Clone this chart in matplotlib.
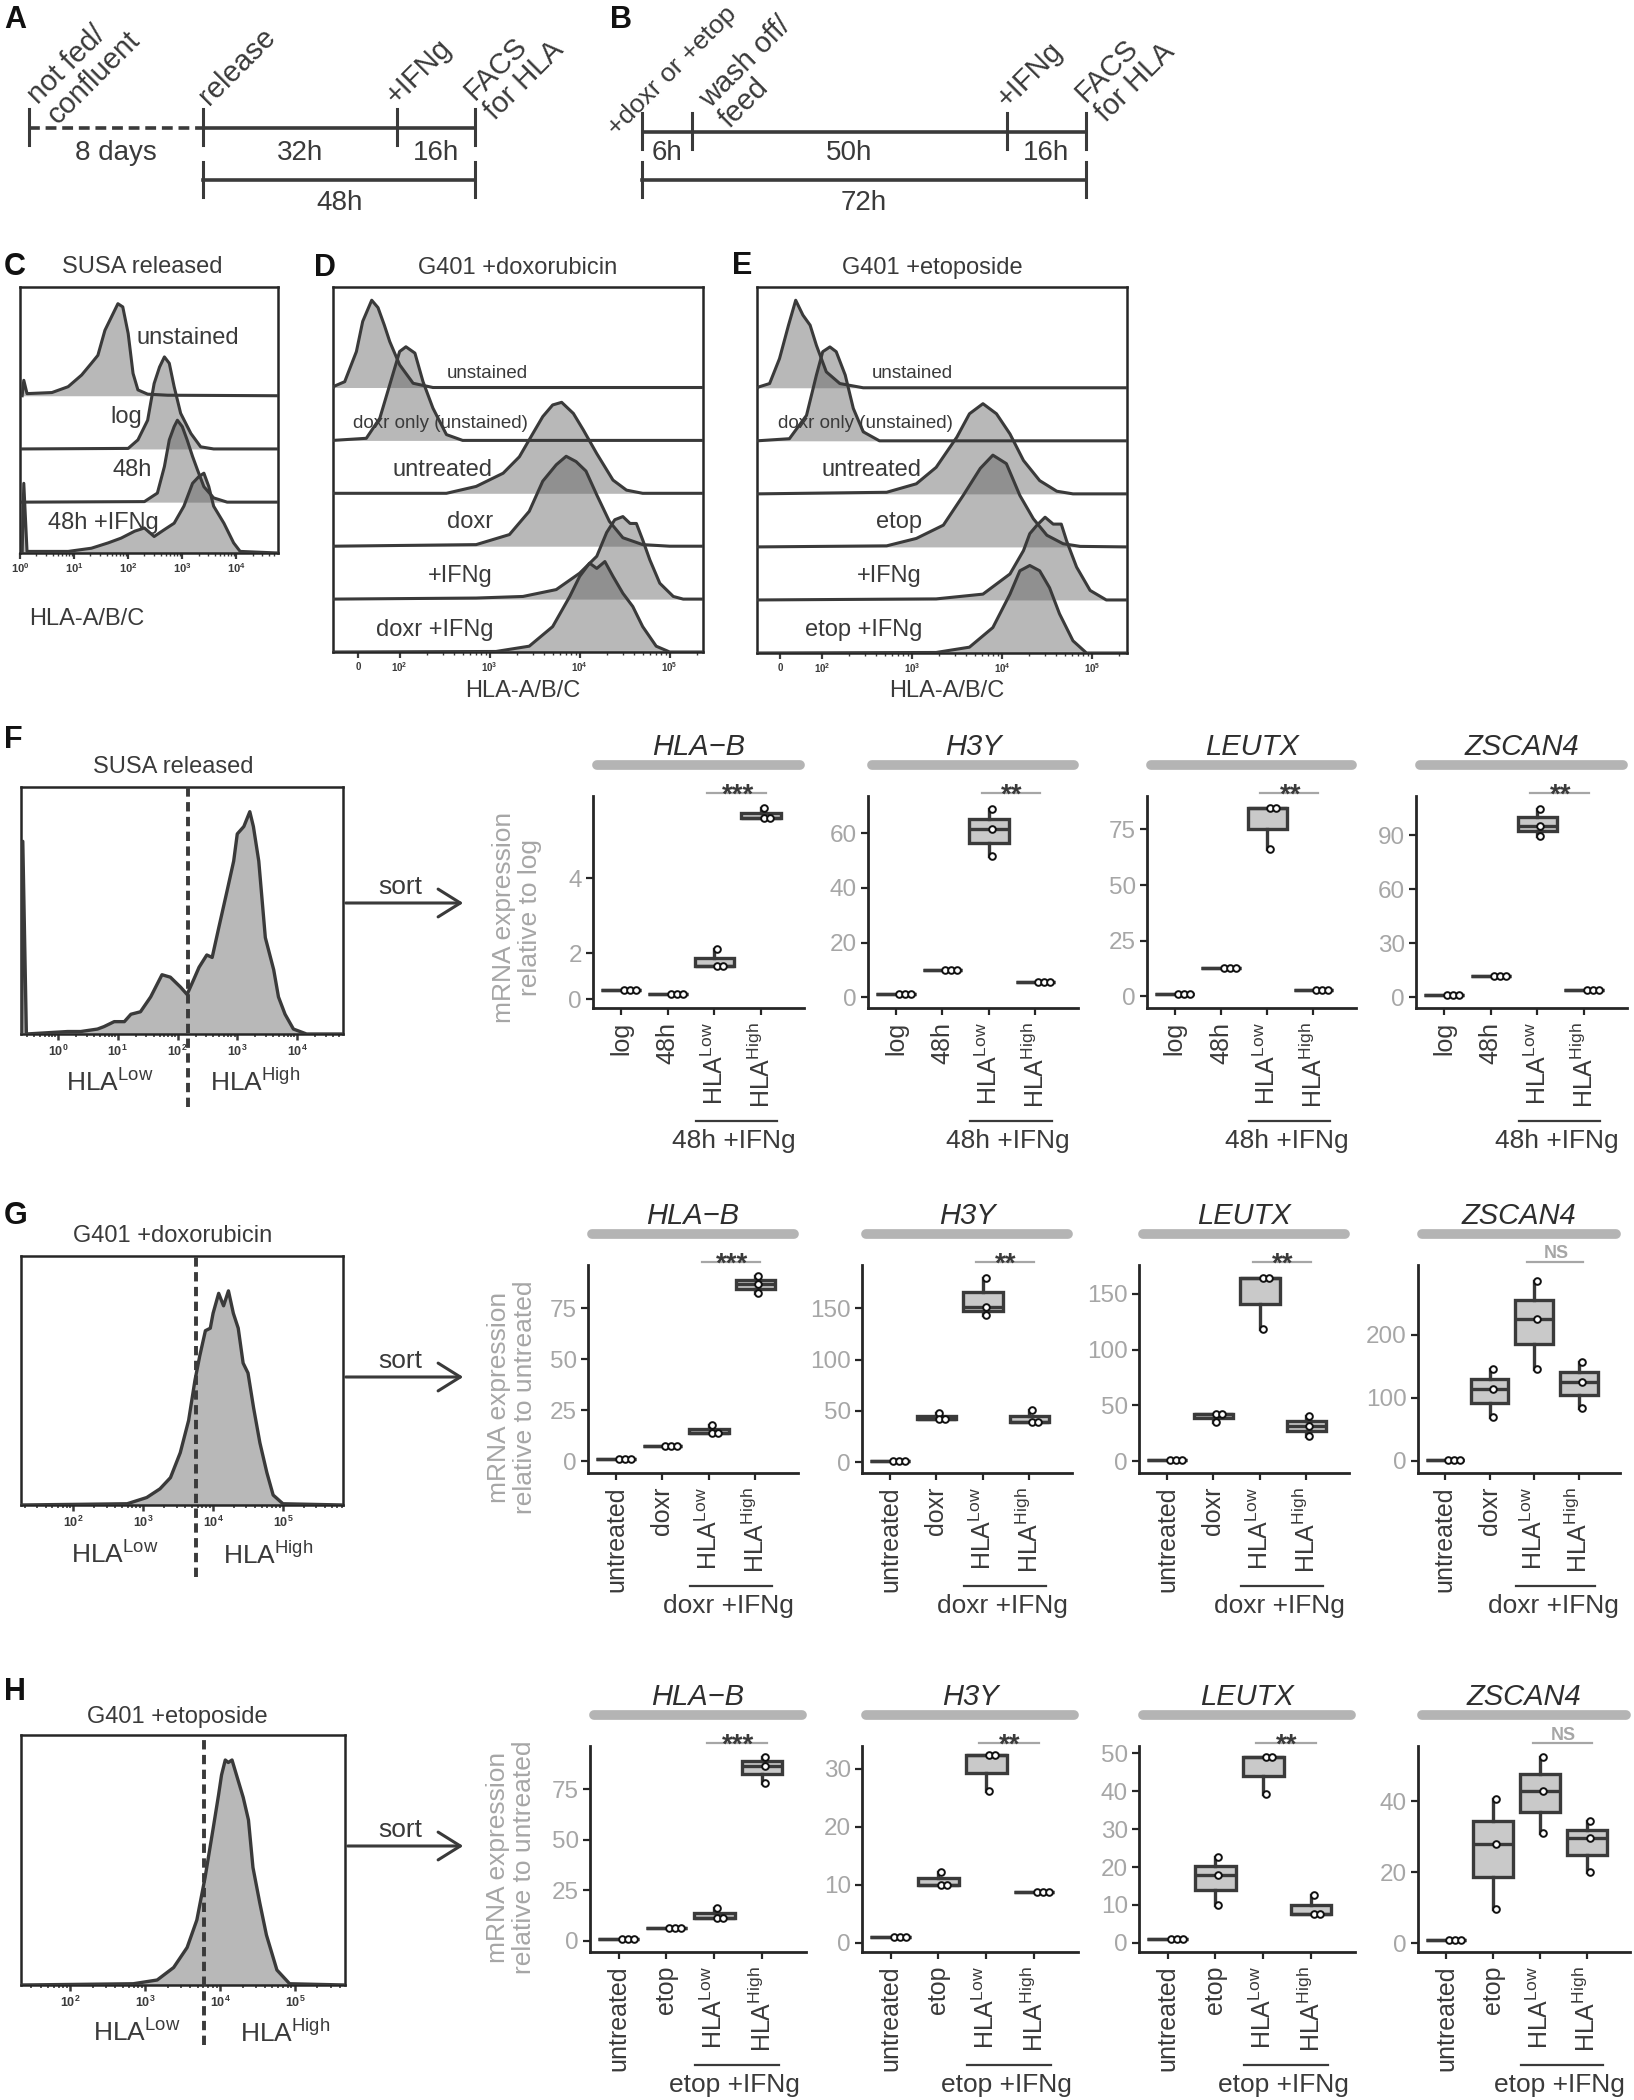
"""Composite figure: timelines, flow histograms and qPCR box plots."""

import numpy as np
import matplotlib
matplotlib.use("Agg")
import matplotlib.pyplot as plt
import matplotlib.transforms as mtransforms
from matplotlib.patches import FancyArrowPatch

plt.rcParams["font.family"] = ["Liberation Sans", "DejaVu Sans"]
plt.rcParams["mathtext.fontset"] = "custom"
plt.rcParams["mathtext.rm"] = "Liberation Sans"
plt.rcParams["mathtext.it"] = "Liberation Sans:italic"
plt.rcParams["mathtext.bf"] = "Liberation Sans:bold"

W, H = 1634, 2100
INK = "#3a3a3a"
AXIS = "#262626"
GREY = "#a6a6a6"
STRIP = "#b4b4b4"
BOXFILL = "#c9c9c9"
HISTFILL = "#5c5c5c"

# ---------------- data ----------------
# A / B schematic timelines
A_EVENTS = ["not fed/\nconfluent", "release", "+IFNg", "FACS\nfor HLA"]
A_SPANS = ["8 days", "32h", "16h"]
A_TOTAL = "48h"
B_EVENTS = ["+doxr or +etop", "wash off/\nfeed", "+IFNg", "FACS\nfor HLA"]
B_SPANS = ["6h", "50h", "16h"]
B_TOTAL = "72h"

# C: SUSA released (x = log10 intensity, h = height in row units)
C_UNST_X = [0.07, 0.13, 0.59, 0.89, 1.14, 1.32, 1.44, 1.57, 1.69, 1.81, 1.90, 2.00, 2.09, 2.18, 2.36, 2.73]
C_UNST_H = [0.29, 0.04, 0.06, 0.17, 0.39, 0.61, 0.76, 1.23, 1.48, 1.73, 1.67, 1.17, 0.42, 0.11, 0.03, 0.01]
C_LOG_X = [2.00, 2.18, 2.36, 2.48, 2.58, 2.67, 2.76, 2.85, 2.97, 3.16, 3.34, 3.58]
C_LOG_H = [0.01, 0.17, 0.54, 1.23, 1.54, 1.73, 1.61, 1.17, 0.67, 0.29, 0.04, 0.0]
C_48_X = [2.30, 2.54, 2.67, 2.76, 2.85, 2.91, 3.00, 3.09, 3.19, 3.28, 3.40, 3.58, 3.83]
C_48_H = [0.01, 0.17, 0.67, 1.17, 1.42, 1.54, 1.42, 1.17, 0.86, 0.61, 0.29, 0.08, 0.0]
C_IFN_X = [0.07, 0.13, 0.89, 1.32, 1.63, 1.87, 2.12, 2.30, 2.48, 2.67, 2.85, 3.03, 3.19, 3.31, 3.40,
           3.49, 3.58, 3.77, 3.95, 4.07]
C_IFN_H = [1.31, 0.03, 0.03, 0.09, 0.19, 0.28, 0.41, 0.47, 0.31, 0.44, 0.56, 0.88, 1.31, 1.44, 1.50,
           1.25, 0.88, 0.56, 0.19, 0.03]
C_LABELS = ["unstained", "log", "48h", "48h +IFNg"]

# D: G401 +doxorubicin
D_UNST_X = [1.24, 1.39, 1.52, 1.59, 1.69, 1.76, 1.83, 1.89, 2.00, 2.15, 2.37]
D_UNST_H = [0.0, 0.11, 0.68, 1.25, 1.65, 1.51, 1.18, 0.87, 0.43, 0.08, 0.0]
D_DXO_X = [1.63, 1.78, 1.89, 2.00, 2.07, 2.17, 2.26, 2.37, 2.52, 2.70]
D_DXO_H = [0.04, 0.42, 1.05, 1.68, 1.77, 1.65, 1.11, 0.61, 0.11, 0.0]
D_UNT_X = [2.52, 2.85, 3.15, 3.33, 3.48, 3.59, 3.70, 3.80, 3.93, 4.04, 4.19, 4.37, 4.52, 4.70]
D_UNT_H = [0.0, 0.13, 0.38, 0.69, 1.13, 1.45, 1.67, 1.72, 1.51, 1.20, 0.75, 0.25, 0.06, 0.0]
D_DOX_X = [2.85, 3.22, 3.44, 3.59, 3.74, 3.85, 3.96, 4.07, 4.19, 4.33, 4.48, 4.70, 5.00]
D_DOX_H = [0.03, 0.22, 0.66, 1.23, 1.54, 1.70, 1.60, 1.42, 0.97, 0.47, 0.16, 0.03, 0.0]
D_IFN_X = [2.85, 3.37, 3.74, 4.00, 4.19, 4.30, 4.39, 4.48, 4.56, 4.63, 4.70, 4.78, 4.89, 5.04, 5.15]
D_IFN_H = [0.02, 0.05, 0.18, 0.49, 0.81, 1.26, 1.50, 1.56, 1.43, 1.43, 1.12, 0.74, 0.30, 0.05, 0.0]
D_DIF_X = [3.07, 3.44, 3.70, 3.89, 4.00, 4.11, 4.19, 4.28, 4.37, 4.48, 4.59, 4.70, 4.85, 5.00]
D_DIF_H = [0.01, 0.11, 0.48, 1.05, 1.43, 1.68, 1.58, 1.71, 1.43, 1.11, 0.86, 0.48, 0.11, 0.0]
D_LABELS = ["unstained", "doxr only (unstained)", "untreated", "doxr", "+IFNg", "doxr +IFNg"]

# E: G401 +etoposide
E_UNST_X = [1.27, 1.42, 1.53, 1.63, 1.71, 1.79, 1.87, 1.94, 2.05, 2.20, 2.46]
E_UNST_H = [0.0, 0.08, 0.55, 1.18, 1.65, 1.37, 1.18, 0.80, 0.30, 0.08, 0.0]
E_DXO_X = [1.64, 1.83, 1.94, 2.01, 2.09, 2.16, 2.26, 2.35, 2.46, 2.64]
E_DXO_H = [0.04, 0.48, 1.24, 1.68, 1.77, 1.68, 1.24, 0.61, 0.17, 0.0]
E_UNT_X = [2.72, 3.05, 3.27, 3.50, 3.64, 3.79, 3.94, 4.09, 4.24, 4.42, 4.61, 4.79]
E_UNT_H = [0.03, 0.19, 0.50, 1.07, 1.51, 1.70, 1.51, 1.13, 0.63, 0.25, 0.05, 0.0]
E_ETO_X = [2.72, 3.05, 3.35, 3.57, 3.76, 3.90, 4.05, 4.20, 4.35, 4.50, 4.68, 4.87]
E_ETO_H = [0.02, 0.16, 0.41, 0.97, 1.48, 1.73, 1.57, 0.97, 0.53, 0.22, 0.06, 0.01]
E_IFN_X = [3.27, 3.79, 4.09, 4.24, 4.31, 4.39, 4.48, 4.57, 4.66, 4.72, 4.83, 4.98, 5.16]
E_IFN_H = [0.02, 0.11, 0.49, 0.93, 1.25, 1.41, 1.56, 1.43, 1.43, 1.11, 0.62, 0.18, 0.0]
E_EIF_X = [3.27, 3.64, 3.90, 4.09, 4.20, 4.31, 4.42, 4.53, 4.64, 4.79, 4.94]
E_EIF_H = [0.01, 0.11, 0.48, 1.11, 1.55, 1.65, 1.55, 1.23, 0.74, 0.23, 0.0]
E_LABELS = ["unstained", "doxr only (unstained)", "untreated", "etop", "+IFNg", "etop +IFNg"]

# F / G / H sort histograms (h = fraction of frame height)
F_X = [-0.61, -0.59, -0.53, 0.16, 0.38, 0.66, 0.77, 0.94, 1.11, 1.22, 1.38, 1.55, 1.74, 1.88, 2.05,
       2.16, 2.27, 2.36, 2.49, 2.58, 2.69, 2.83, 2.94, 3.00, 3.11, 3.16, 3.21, 3.27, 3.36, 3.47,
       3.61, 3.69, 3.80, 3.94, 4.16]
F_H = [0.0, 0.78, 0.0, 0.01, 0.01, 0.02, 0.03, 0.05, 0.05, 0.08, 0.09, 0.15, 0.24, 0.23, 0.19,
       0.16, 0.22, 0.27, 0.32, 0.31, 0.43, 0.58, 0.70, 0.81, 0.84, 0.87, 0.90, 0.84, 0.70, 0.39,
       0.26, 0.15, 0.08, 0.02, 0.0]
G_X = [2.77, 3.05, 3.24, 3.39, 3.53, 3.65, 3.74, 3.81, 3.89, 3.96, 4.00, 4.08, 4.15, 4.22, 4.29,
       4.36, 4.43, 4.50, 4.58, 4.67, 4.77, 4.86, 5.00]
G_H = [0.005, 0.03, 0.065, 0.11, 0.21, 0.34, 0.50, 0.60, 0.70, 0.71, 0.77, 0.85, 0.80, 0.86, 0.77,
       0.71, 0.57, 0.53, 0.39, 0.25, 0.13, 0.04, 0.005]
H_X = [2.84, 3.16, 3.38, 3.56, 3.69, 3.80, 3.91, 3.98, 4.02, 4.07, 4.11, 4.16, 4.22, 4.31, 4.38,
       4.44, 4.53, 4.62, 4.76, 4.93]
H_H = [0.005, 0.02, 0.07, 0.15, 0.26, 0.43, 0.63, 0.76, 0.84, 0.90, 0.89, 0.90, 0.84, 0.75, 0.66,
       0.47, 0.33, 0.20, 0.06, 0.005]
F_GATE, G_GATE, H_GATE = 2.17, 3.75, 3.79

# qPCR box plots (3 replicates per group)
GENES = ["HLA\u2212B", "H3Y", "LEUTX", "ZSCAN4"]
HLA_LOW = r"HLA$^{\mathregular{Low}}$"
HLA_HIGH = r"HLA$^{\mathregular{High}}$"
F_CATS = ["log", "48h", HLA_LOW, HLA_HIGH]
G_CATS = ["untreated", "doxr", HLA_LOW, HLA_HIGH]
H_CATS = ["untreated", "etop", HLA_LOW, HLA_HIGH]

F_HLAB = [[1.0, 1.0, 1.0], [0.91, 0.91, 0.91], [2.11, 1.64, 1.64], [5.88, 5.60, 5.60]]
F_H3Y = [[1.0, 1.0, 1.0], [9.8, 9.8, 9.8], [69.1, 61.5, 51.7], [5.7, 5.7, 5.7]]
F_LEUTX = [[1.0, 1.0, 1.0], [12.6, 12.6, 12.6], [84.5, 84.5, 66.0], [3.0, 3.0, 3.0]]
F_ZSCAN4 = [[1.0, 1.0, 1.0], [11.9, 11.9, 11.9], [104.6, 95.0, 89.4], [3.7, 3.7, 3.7]]

G_HLAB = [[1.0, 1.0, 1.0], [7.3, 7.3, 7.3], [17.6, 13.9, 13.9], [91.0, 86.8, 82.4]]
G_H3Y = [[1.0, 1.0, 1.0], [47.7, 41.9, 41.9], [179.9, 151.6, 143.5], [51.0, 39.0, 39.0]]
G_LEUTX = [[1.0, 1.0, 1.0], [42.3, 42.3, 34.8], [164.3, 164.3, 118.2], [40.8, 31.8, 22.9]]
G_ZSCAN4 = [[1.0, 1.0, 1.0], [145.0, 114.4, 70.0], [285.0, 225.0, 146.0], [157.0, 125.0, 84.5]]

H_HLAB = [[1.0, 1.0, 1.0], [6.1, 6.1, 6.1], [16.1, 11.2, 11.2], [90.9, 86.6, 78.0]]
H_H3Y = [[1.0, 1.0, 1.0], [12.2, 10.0, 10.0], [32.3, 32.3, 26.1], [8.85, 8.85, 8.85]]
H_LEUTX = [[1.0, 1.0, 1.0], [22.6, 17.9, 9.9], [48.9, 48.9, 39.3], [12.5, 7.7, 7.7]]
H_ZSCAN4 = [[1.0, 1.0, 1.0], [40.7, 27.9, 9.6], [52.4, 42.9, 31.0], [34.4, 29.5, 20.0]]

F_SIG = ["***", "**", "**", "**"]
G_SIG = ["***", "**", "**", "NS"]
H_SIG = ["***", "**", "**", "NS"]

# ---------------- helpers ----------------
fig = plt.figure(figsize=(W / 100, H / 100), dpi=100)


def px_ax(x0, y0, x1, y1):
    return fig.add_axes([x0 / W, 1 - y1 / H, (x1 - x0) / W, (y1 - y0) / H])


def ftext(x, y, s, **kw):
    kw.setdefault("color", INK)
    return fig.text(x / W, 1 - y / H, s, **kw)


def letter(x, y, s):
    ftext(x, y, s, fontsize=22, fontweight="bold", color="#111111", ha="left", va="center")


def dec_label(n):
    return r"$\mathbf{10^{%d}}$" % n


# ---------------- A / B timelines ----------------
ax = px_ax(0, 0, W, 240)
ax.set_xlim(0, W)
ax.set_ylim(240, 0)
ax.axis("off")


def timeline(xs, y_line, events, anchors, sizes, spans, total, dashed_first):
    for i in range(len(xs) - 1):
        ls = (0, (3, 1.6)) if (dashed_first and i == 0) else "-"
        ax.plot([xs[i], xs[i + 1]], [y_line, y_line], color=INK, lw=2.6, ls=ls, solid_capstyle="butt")
        ax.text((xs[i] + xs[i + 1]) / 2, 153, spans[i], ha="center", va="center", fontsize=20, color=INK)
    for x in xs:
        ax.plot([x, x], [y_line - 19, y_line + 17], color=INK, lw=2.2)
    x0 = xs[1] if dashed_first else xs[0]
    ax.plot([x0, xs[-1]], [180, 180], color=INK, lw=2.6)
    for x in (x0, xs[-1]):
        ax.plot([x, x], [162, 197], color=INK, lw=2.2)
    ax.text((x0 + xs[-1]) / 2, 203, total, ha="center", va="center", fontsize=20, color=INK)
    for s, (axx, ayy), fs in zip(events, anchors, sizes):
        ax.text(axx, ayy, s, rotation=45, rotation_mode="anchor", ha="left", va="bottom",
                fontsize=fs, color=INK, linespacing=1.0)


timeline([29.5, 203, 397, 475.5], 128, A_EVENTS,
         [(62, 129), (213, 110), (401, 110), (499, 125)], [21, 21, 21, 21], A_SPANS, A_TOTAL, True)
timeline([642, 692, 1007, 1086], 131.5, B_EVENTS,
         [(620, 140), (734, 133), (1012, 113), (1110, 127)], [19, 21, 21, 21], B_SPANS, B_TOTAL, False)
letter(4, 20, "A")
letter(610, 20, "B")


# ---------------- C / D / E stacked histograms ----------------
def flow_stack(box, curves, bases, xlim, top, ticks, ticklabels, decades, tsize):
    a = px_ax(*box)
    for (xs, hs), b in zip(curves, bases):
        xx = np.r_[xlim[0], xs, xlim[1]]
        hh = np.r_[0.0, hs, 0.0]
        a.fill_between(xx, b, b + hh, color=HISTFILL, alpha=0.43, lw=0, zorder=2)
        a.plot(xx, b + hh, color=INK, lw=2.2, zorder=3)
    a.set_xlim(xlim)
    a.set_ylim(0, top)
    a.set_yticks([])
    a.set_xticks(ticks, ticklabels)
    minor = [np.log10(k) + d for d in decades for k in range(2, 10)]
    a.set_xticks([m for m in minor if xlim[0] < m < xlim[1]], minor=True)
    a.tick_params(axis="x", which="major", length=4, width=1.6, pad=2, labelsize=tsize, colors=INK)
    a.tick_params(axis="x", which="minor", length=2.5, width=1.0, colors=INK)
    for s in a.spines.values():
        s.set_linewidth(1.8)
        s.set_color(AXIS)
    return a


flow_stack((20, 287, 278, 553),
           [(C_UNST_X, C_UNST_H), (C_LOG_X, C_LOG_H), (C_48_X, C_48_H), (C_IFN_X, C_IFN_H)],
           [2.956, 1.956, 0.956, 0.0], (0.04, 4.77), 5.0,
           [0, 1, 2, 3, 4], [dec_label(n) for n in range(5)], [0, 1, 2, 3, 4], 8)
letter(4, 267, "C")
ftext(142, 267, "SUSA released", fontsize=17, ha="center", va="center")
ftext(188, 338, C_LABELS[0], fontsize=17, ha="center", va="center")
ftext(142, 417, C_LABELS[1], fontsize=17, ha="right", va="center")
ftext(152, 470, C_LABELS[2], fontsize=17, ha="right", va="center")
ftext(103, 523, C_LABELS[3], fontsize=17, ha="center", va="center")
ftext(87, 619, "HLA-A/B/C", fontsize=17, ha="center", va="center")

DE_TICKS = [1.54, 2, 3, 4, 5]
DE_TICKLABELS = [r"$\mathbf{0}$"] + [dec_label(n) for n in (2, 3, 4, 5)]
flow_stack((333, 287, 703, 652),
           [(D_UNST_X, D_UNST_H), (D_DXO_X, D_DXO_H), (D_UNT_X, D_UNT_H), (D_DOX_X, D_DOX_H),
            (D_IFN_X, D_IFN_H), (D_DIF_X, D_DIF_H)],
           [5, 4, 3, 2, 1, 0], (1.26, 5.37), 6.9, DE_TICKS, DE_TICKLABELS, [2, 3, 4, 5], 7)
flow_stack((757, 287, 1127, 653),
           [(E_UNST_X, E_UNST_H), (E_DXO_X, E_DXO_H), (E_UNT_X, E_UNT_H), (E_ETO_X, E_ETO_H),
            (E_IFN_X, E_IFN_H), (E_EIF_X, E_EIF_H)],
           [5, 4, 3, 2, 1, 0], (1.28, 5.39), 6.9, DE_TICKS, DE_TICKLABELS, [2, 3, 4, 5], 7)

letter(314, 268, "D")
letter(732, 266, "E")
ftext(518, 268, "G401 +doxorubicin", fontsize=17, ha="center", va="center")
ftext(932, 268, "G401 +etoposide", fontsize=17, ha="center", va="center")
for x_c, x_r, labels in ((487, 493, D_LABELS), (912, 922, E_LABELS)):
    ftext(x_c, 373, labels[0], fontsize=13.5, ha="center", va="center")
    ftext(x_c - 47, 423, labels[1], fontsize=13.5, ha="center", va="center")
    for lab, yy in zip(labels[2:], (470, 522, 576, 630)):
        ftext(x_r, yy, lab, fontsize=17, ha="right", va="center")
ftext(523, 691, "HLA-A/B/C", fontsize=17, ha="center", va="center")
ftext(947, 691, "HLA-A/B/C", fontsize=17, ha="center", va="center")


# ---------------- F / G / H sort histograms ----------------
def sort_hist(box, xs, hs, gate, xlim, ext, ticks, decades, title, title_xy, low_xy, high_xy, arrow_y):
    a = px_ax(*box)
    xx = np.r_[xlim[0], xs, xlim[1]]
    hh = np.r_[0.0, hs, 0.0]
    a.fill_between(xx, 0, hh, color=HISTFILL, alpha=0.43, lw=0, zorder=2)
    a.plot(xx, hh, color=INK, lw=2.4, zorder=3)
    a.plot([gate, gate], [-ext, 1.0], color=INK, lw=2.8, ls=(0, (2.4, 1.4)), clip_on=False, zorder=4)
    a.set_xlim(xlim)
    a.set_ylim(0, 1.0)
    a.set_yticks([])
    a.set_xticks(ticks, [dec_label(n) for n in ticks])
    minor = [np.log10(k) + d for d in decades for k in range(2, 10)]
    a.set_xticks([m for m in minor if xlim[0] < m < xlim[1]], minor=True)
    a.tick_params(axis="x", which="major", length=4, width=1.8, pad=3, labelsize=9, colors=INK)
    a.tick_params(axis="x", which="minor", length=2.5, width=1.2, colors=INK)
    for s in a.spines.values():
        s.set_linewidth(1.8)
        s.set_color(AXIS)
    ftext(*title_xy, title, fontsize=17, ha="center", va="center")
    ftext(*low_xy, HLA_LOW, fontsize=19, ha="center", va="center")
    ftext(*high_xy, HLA_HIGH, fontsize=19, ha="center", va="center")
    x1 = box[2]
    fig.add_artist(FancyArrowPatch((x1 / W, 1 - arrow_y / H), (466 / W, 1 - arrow_y / H),
                                   transform=fig.transFigure, color=INK, lw=2.2,
                                   arrowstyle="->,head_length=0.8,head_width=0.5", mutation_scale=20))
    ftext(400, arrow_y - 16, "sort", fontsize=19, ha="center", va="center")


sort_hist((21, 787, 343, 1034), F_X, F_H, F_GATE, (-0.62, 4.77), 0.295, [0, 1, 2, 3, 4],
          [-1, 0, 1, 2, 3, 4], "SUSA released", (173, 767), (110, 1083), (255, 1082), 903)
letter(4, 740, "F")
sort_hist((21, 1256, 343, 1505), G_X, G_H, G_GATE, (1.25, 5.86), 0.29, [2, 3, 4, 5],
          [1, 2, 3, 4, 5], "G401 +doxorubicin", (173, 1236), (115, 1555), (268, 1555), 1377)
letter(4, 1216, "G")
sort_hist((21, 1735, 345, 1985), H_X, H_H, H_GATE, (1.34, 5.67), 0.24, [2, 3, 4, 5],
          [1, 2, 3, 4, 5], "G401 +etoposide", (177, 1717), (137, 2033), (285, 2033), 1846)
letter(4, 1692, "H")


# ---------------- qPCR box plots ----------------
XLIM = (0.4, 4.92)


def expr_panel(x0, x1, y0, y1, data, cats, ylim, yticks, yticklabels, gene, sig, group):
    a = px_ax(x0, y0, x1, y1)
    pos = np.arange(1, 5)
    a.boxplot(data, positions=pos, widths=0.85, whis=(0, 100), patch_artist=True,
              showfliers=False, showcaps=False,
              boxprops=dict(facecolor=BOXFILL, edgecolor=INK, linewidth=2.4),
              medianprops=dict(color=INK, linewidth=2.4),
              whiskerprops=dict(color=INK, linewidth=2.4))
    a.set_xlim(XLIM)
    a.set_ylim(ylim)
    hpx, wpx = y1 - y0, x1 - x0
    ppu = hpx / (ylim[1] - ylim[0])
    ppx = wpx / (XLIM[1] - XLIM[0])
    # simple one-sided beeswarm
    for p, vals in zip(pos, data):
        placed = []
        for v in vals:
            k = 0
            while any(np.hypot(3 + 6 * k - po, (v - pv) * ppu) < 5.5 for po, pv in placed):
                k += 1
            placed.append((3 + 6 * k, v))
            a.plot(p + (3 + 6 * k) / ppx, v, "o", ms=4.8, mfc="white", mec="#111111", mew=1.4,
                   zorder=5, clip_on=False)
    a.set_xticks(pos, cats, rotation=90)
    a.set_yticks(yticks, yticklabels)
    a.tick_params(axis="x", length=5, width=1.6, pad=5, labelsize=18, colors=AXIS, labelcolor=INK)
    a.tick_params(axis="y", length=5, width=1.6, pad=3, labelsize=17.5, colors=AXIS, labelcolor=GREY)
    for side in ("top", "right"):
        a.spines[side].set_visible(False)
    for side in ("left", "bottom"):
        a.spines[side].set_linewidth(2.0)
        a.spines[side].set_color(AXIS)
    # facet strip + gene title
    sy = 1 + 31 / hpx
    a.plot([0.02, 0.98], [sy, sy], transform=a.transAxes, color=STRIP, lw=7, solid_capstyle="round",
           clip_on=False)
    a.text(0.5, sy + 10 / hpx, gene, transform=a.transAxes, ha="center", va="baseline",
           fontsize=21, style="italic", color="#2e2e2e")
    # significance
    tb = mtransforms.blended_transform_factory(a.transData, a.transAxes)
    ly = 1 + 3.5 / hpx
    a.plot([2.85, 4.1], [ly, ly], transform=tb, color=GREY, lw=1.6, clip_on=False)
    if sig == "NS":
        a.text(3.5, ly + 3 / hpx, sig, transform=tb, ha="center", va="baseline", fontsize=13,
               fontweight="bold", color=GREY)
    else:
        a.text(3.5, ly - 10 / hpx, sig, transform=tb, ha="center", va="baseline", fontsize=20,
               fontweight="bold", color=INK)
    # treatment bracket under HLA groups
    by = -113 / hpx
    a.plot([2.6, 4.35], [by, by], transform=tb, color=INK, lw=1.6, clip_on=False)
    a.text(3.42, -133 / hpx, group, transform=tb, ha="center", va="center", fontsize=19, color=INK)
    return a


ROWS = [
    (796, 1008, F_CATS, "48h +IFNg", F_SIG, "mRNA expression\nrelative to log", (517, 917),
     [(593, 804), (868, 1078), (1147, 1356), (1416, 1627)],
     [F_HLAB, F_H3Y, F_LEUTX, F_ZSCAN4],
     [(0.53, 6.2), (-4.0, 73.7), (-5.2, 90.0), (-6.1, 111.7)],
     [([0.77, 2, 4], ["0", "2", "4"]), ([0, 20, 40, 60], None), ([0, 25, 50, 75], None),
      ([0, 30, 60, 90], None)]),
    (1265, 1473, G_CATS, "doxr +IFNg", G_SIG, "mRNA expression\nrelative to untreated", (512, 1397),
     [(588, 798), (862, 1072), (1139, 1349), (1418, 1620)],
     [G_HLAB, G_H3Y, G_LEUTX, G_ZSCAN4],
     [(-5.7, 96.2), (-10.7, 192.2), (-10.7, 176.0), (-19.3, 310.7)],
     [([0, 25, 50, 75], None), ([0, 50, 100, 150], None), ([0, 50, 100, 150], None),
      ([0, 100, 200], None)]),
    (1746, 1952, H_CATS, "etop +IFNg", H_SIG, "mRNA expression\nrelative to untreated", (511, 1857),
     [(590, 806), (862, 1078), (1139, 1355), (1418, 1630)],
     [H_HLAB, H_H3Y, H_LEUTX, H_ZSCAN4],
     [(-5.6, 96.4), (-1.55, 33.9), (-2.4, 51.9), (-2.5, 55.5)],
     [([0, 25, 50, 75], None), ([0, 10, 20, 30], None), ([0, 10, 20, 30, 40, 50], None),
      ([0, 20, 40], None)]),
]

for y0, y1, cats, group, sigs, ylab, ylab_xy, cols, datasets, ylims, ticks in ROWS:
    for (x0, x1), data, yl, (yt, ytl), gene, sig in zip(cols, datasets, ylims, ticks, GENES, sigs):
        if ytl is None:
            ytl = [str(v) for v in yt]
        expr_panel(x0, x1, y0, y1, data, cats, yl, yt, ytl, gene, sig, group)
    ftext(*ylab_xy, ylab, fontsize=19, rotation=90, ha="center", va="center", color=GREY,
          linespacing=1.1, multialignment="center")

fig.savefig("out.png", dpi=100)
print("Saved -> out.png")
